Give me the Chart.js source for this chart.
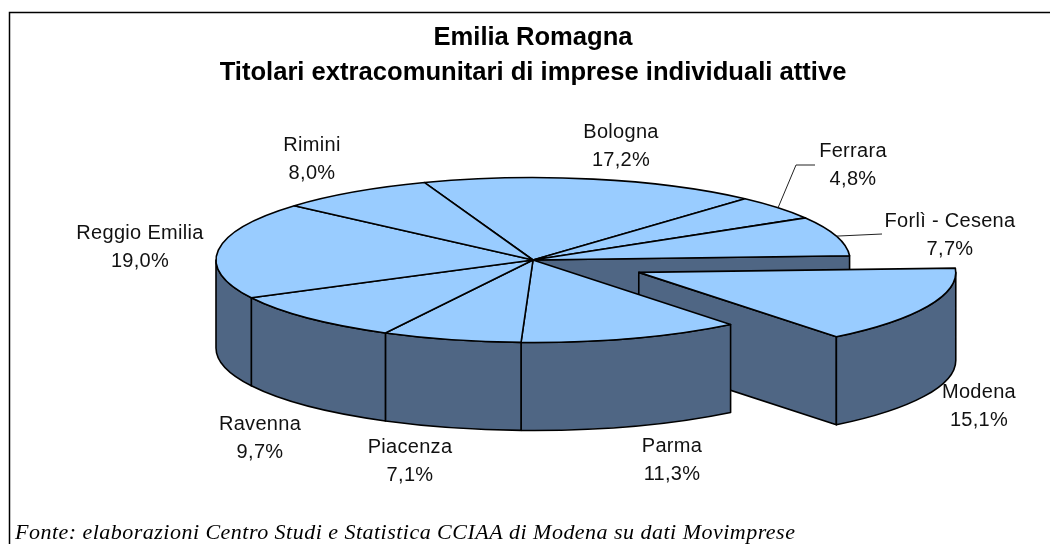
<!DOCTYPE html>
<html>
<head>
<meta charset="utf-8">
<title>Emilia Romagna</title>
<script src="https://cdn.jsdelivr.net/npm/chart.js@4/dist/chart.umd.min.js"></script>
<style>
  html, body { margin: 0; padding: 0; background: #fff; overflow: hidden; }
  canvas { display: block; }
</style>
</head>
<body>
<canvas id="chart1" width="1050" height="544"></canvas>
<script>
const categories = ['Bologna', 'Ferrara', 'Forlì - Cesena', 'Modena', 'Parma', 'Piacenza', 'Ravenna', 'Reggio Emilia', 'Rimini'];
const shares = [17.2, 4.8, 7.7, 15.1, 11.3, 7.1, 9.7, 19.0, 8.0];
const titleLines = ['Emilia Romagna', 'Titolari extracomunitari di imprese individuali attive'];
const sourceNote = 'Fonte: elaborazioni Centro Studi e Statistica CCIAA di Modena su dati Movimprese';

// label centres (x, y of first text line)
const labelX = [621, 853, 950, 979, 672, 410, 260, 140, 312];
const labelY = [132, 151, 221, 392, 446, 447, 424, 233, 145];

const TOP_COLOR = '#99CCFF';
const WALL_COLOR = '#4F6684';
const PIE_Y = 260;      // where the pie centre lands on screen
const SQUASH = 0.26;    // vertical squash of the disc
const DEPTH = 88;       // height of the extruded side
const EXPLODED = 3;     // Modena
const EXPLODE_BY = 116;

function sliceShift(el, i) {
  if (i !== EXPLODED) return { x: 0, y: 0 };
  const mid = (el.startAngle + el.endAngle) / 2;
  return { x: Math.cos(mid) * EXPLODE_BY, y: Math.sin(mid) * EXPLODE_BY * SQUASH };
}

function rimPoint(el, shift, angle) {
  return {
    x: el.x + shift.x + Math.cos(angle) * el.outerRadius,
    y: PIE_Y + shift.y + Math.sin(angle) * el.outerRadius * SQUASH
  };
}

function paint(ctx) {
  ctx.fillStyle = WALL_COLOR;
  ctx.fill();
  ctx.stroke();
}

// flat face running from the centre of the slice out to the rim at this angle
function drawCutFace(ctx, el, shift, angle) {
  const cx = el.x + shift.x, cy = PIE_Y + shift.y;
  const p = rimPoint(el, shift, angle);
  ctx.beginPath();
  ctx.moveTo(cx, cy);
  ctx.lineTo(p.x, p.y);
  ctx.lineTo(p.x, p.y + DEPTH);
  ctx.lineTo(cx, cy + DEPTH);
  ctx.closePath();
  paint(ctx);
}

// curved outer side, only the part facing the viewer
function drawWall(ctx, el, shift) {
  const a0 = Math.max(el.startAngle, 0);
  const a1 = Math.min(el.endAngle, Math.PI);
  if (a1 <= a0) return;
  const cx = el.x + shift.x, cy = PIE_Y + shift.y, r = el.outerRadius;
  ctx.beginPath();
  ctx.ellipse(cx, cy, r, r * SQUASH, 0, a0, a1);
  ctx.ellipse(cx, cy + DEPTH, r, r * SQUASH, 0, a1, a0, true);
  ctx.closePath();
  paint(ctx);
}

function drawTop(ctx, el, shift) {
  ctx.save();
  ctx.translate(shift.x, PIE_Y + shift.y);
  ctx.scale(1, SQUASH);
  ctx.translate(0, -el.y);
  el.draw(ctx);
  ctx.restore();

  const cx = el.x + shift.x, cy = PIE_Y + shift.y, r = el.outerRadius;
  ctx.beginPath();
  ctx.moveTo(cx, cy);
  ctx.ellipse(cx, cy, r, r * SQUASH, 0, el.startAngle, el.endAngle);
  ctx.closePath();
  ctx.stroke();
}

const pie3d = {
  id: 'pie3d',
  beforeDatasetDraw(chart, args) {
    const ctx = chart.ctx;
    const arcs = args.meta.data;
    const noShift = { x: 0, y: 0 };
    ctx.save();
    ctx.strokeStyle = '#000';
    ctx.lineWidth = 1.6;
    ctx.lineJoin = 'round';

    // back to front: wall behind the gap, the pulled out slice, then the rest
    drawCutFace(ctx, arcs[EXPLODED], noShift, arcs[EXPLODED].startAngle);

    const out = arcs[EXPLODED];
    const outShift = sliceShift(out, EXPLODED);
    drawCutFace(ctx, out, outShift, out.endAngle);
    drawWall(ctx, out, outShift);
    drawTop(ctx, out, outShift);

    arcs.forEach((el, i) => { if (i !== EXPLODED) drawWall(ctx, el, noShift); });
    arcs.forEach((el, i) => { if (i !== EXPLODED) drawTop(ctx, el, noShift); });
    ctx.restore();
    return false;
  }
};

const annotations = {
  id: 'annotations',
  beforeDraw(chart) {
    const ctx = chart.ctx;
    ctx.save();
    ctx.strokeStyle = '#000';
    ctx.lineWidth = 1.5;
    ctx.beginPath();
    ctx.moveTo(1050, 12.5);
    ctx.lineTo(9.5, 12.5);
    ctx.lineTo(9.5, 544);
    ctx.stroke();
    ctx.restore();
  },
  afterDraw(chart) {
    const ctx = chart.ctx;
    const arcs = chart.getDatasetMeta(0).data;
    ctx.save();

    // leader lines for the two narrow slices
    ctx.strokeStyle = '#222';
    ctx.lineWidth = 1;
    let el = arcs[1];
    let p = rimPoint(el, { x: 0, y: 0 }, (el.startAngle + el.endAngle) / 2);
    ctx.beginPath();
    ctx.moveTo(p.x, p.y);
    ctx.lineTo(labelX[1] - 57, labelY[1] + 14);
    ctx.lineTo(labelX[1] - 38, labelY[1] + 14);
    ctx.stroke();
    el = arcs[2];
    p = rimPoint(el, { x: 0, y: 0 }, (el.startAngle + el.endAngle) / 2);
    ctx.beginPath();
    ctx.moveTo(p.x, p.y);
    ctx.lineTo(labelX[2] - 68, labelY[2] + 13);
    ctx.stroke();

    ctx.fillStyle = '#111';
    ctx.font = '20px "Liberation Sans"';
    ctx.textAlign = 'center';
    ctx.textBaseline = 'middle';
    ctx.letterSpacing = '0.3px';
    categories.forEach((name, i) => {
      ctx.fillText(name, labelX[i], labelY[i]);
      ctx.fillText(shares[i].toFixed(1).replace('.', ',') + '%', labelX[i], labelY[i] + 28);
    });

    ctx.fillStyle = '#000';
    ctx.font = 'italic 22px "Liberation Serif"';
    ctx.textAlign = 'left';
    ctx.textBaseline = 'alphabetic';
    ctx.letterSpacing = '0.48px';
    ctx.fillText(sourceNote, 15, 539);
    ctx.restore();
  }
};

new Chart(document.getElementById('chart1').getContext('2d'), {
  type: 'pie',
  data: {
    labels: categories,
    datasets: [{
      data: shares,
      backgroundColor: TOP_COLOR,
      borderWidth: 0,
      radius: 317,
      clip: false
    }]
  },
  options: {
    responsive: false,
    animation: false,
    events: [],
    rotation: -20,
    layout: { padding: { left: 16, top: 20 } },
    plugins: {
      legend: { display: false },
      tooltip: { enabled: false },
      title: {
        display: true,
        text: titleLines,
        color: '#000',
        font: { family: '"Liberation Sans"', size: 25.6, weight: 'bold', lineHeight: 1.37 },
        padding: 0
      }
    }
  },
  plugins: [pie3d, annotations]
});
</script>
</body>
</html>
